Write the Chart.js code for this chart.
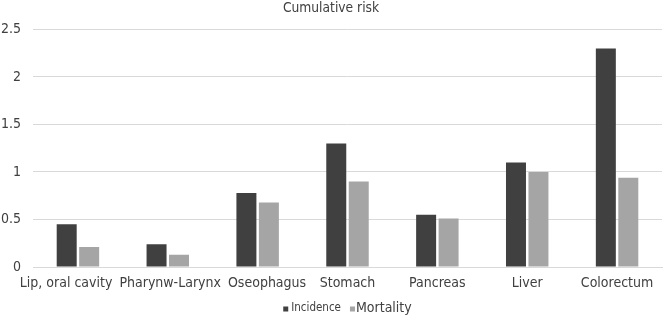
<!DOCTYPE html>
<html><head><meta charset="utf-8">
<script src="https://cdn.jsdelivr.net/npm/chart.js@4"></script>
<style>html,body{margin:0;padding:0;background:#fff;overflow:hidden}#w{width:663px;height:317px}</style>
</head><body><div id="w"><canvas id="c"></canvas></div>
<script>
const categories = ["Lip, oral cavity","Pharynw-Larynx","Oseophagus","Stomach","Pancreas","Liver","Colorectum"];
const incidence = [0.45,0.24,0.78,1.3,0.55,1.1,2.3];
const mortality = [0.21,0.13,0.68,0.9,0.51,1.0,0.94];
const yTicks = [0,0.5,1,1.5,2,2.5];
const FONT = "'DejaVu Sans Condensed', 'DejaVu Sans', sans-serif";
const TXT = '#404040';

// category labels: centred on the x scale ticks, then nudged apart where they would overlap
const categoryLabels = {
  id: 'categoryLabels',
  afterDraw(chart) {
    const ctx = chart.ctx, xs = chart.scales.x;
    const minGap = 7;
    ctx.save();
    ctx.font = '14px ' + FONT;
    ctx.fillStyle = TXT;
    ctx.textAlign = 'center';
    ctx.textBaseline = 'middle';
    const items = chart.data.labels.map((t, i) => ({t, c: xs.getPixelForTick(i), w: ctx.measureText(t).width}));
    for (let it = 0; it < 60; it++) {
      for (let i = 0; i < items.length - 1; i++) {
        const a = items[i], b = items[i + 1];
        const overlap = (a.c + a.w / 2 + minGap) - (b.c - b.w / 2);
        if (overlap > 0) { a.c -= overlap / 2; b.c += overlap / 2; }
      }
    }
    const y = xs.top + 16;
    items.forEach(o => ctx.fillText(o.t, o.c, y));
    ctx.restore();
  }
};

// legend: Incidence drawn smaller than Mortality as in the reference
const legendSizes = [11.5, 14];
const legendGaps = [3, 1];
const customLegend = {
  id: 'customLegend',
  afterDraw(chart) {
    const ctx = chart.ctx;
    const ds = chart.data.datasets;
    const box = 5, gapItems = 9;
    ctx.save();
    ctx.textBaseline = 'middle';
    ctx.textAlign = 'left';
    const widths = ds.map((d, i) => { ctx.font = legendSizes[i] + 'px ' + FONT; return ctx.measureText(d.label).width; });
    let total = 0;
    widths.forEach((w, i) => { total += box + legendGaps[i] + w + (i < widths.length - 1 ? gapItems : 0); });
    const ca = chart.chartArea;
    let x = (ca.left + ca.right - total) / 2;
    const y = chart.scales.x.bottom + 17;
    ds.forEach((d, i) => {
      ctx.fillStyle = d.backgroundColor;
      ctx.fillRect(x, y - box / 2 + 1, box, box);
      x += box + legendGaps[i];
      ctx.font = legendSizes[i] + 'px ' + FONT;
      ctx.fillStyle = TXT;
      ctx.fillText(d.label, x, y);
      x += widths[i] + gapItems;
    });
    ctx.restore();
  }
};

new Chart(document.getElementById('c'), {
  type: 'bar',
  data: {
    labels: categories,
    datasets: [
      {label:'Incidence', data: incidence, backgroundColor:'#404040', categoryPercentage:0.5, barPercentage:0.89},
      {label:'Mortality', data: mortality, backgroundColor:'#a5a5a5', categoryPercentage:0.5, barPercentage:0.89}
    ]
  },
  plugins: [categoryLabels, customLegend],
  options: {
    responsive:true, maintainAspectRatio:false, animation:false,
    layout:{padding:{left:0,right:1,top:0,bottom:26}},
    plugins:{
      title:{display:true,text:'Cumulative risk',color:TXT,font:{family:FONT,size:13.7,weight:'normal'},padding:{top:0,bottom:13}},
      legend:{display:false},
      tooltip:{enabled:false}
    },
    scales:{
      x:{grid:{display:false,drawTicks:false},border:{color:'#d9d9d9'},
         afterFit:(ax)=>{ax.height=24;},
         ticks:{display:false}},
      y:{min:0,max:2.5,
         afterBuildTicks:(ax)=>{ax.ticks=yTicks.map(v=>({value:v}));},
         afterFit:(ax)=>{ax.width=33;},
         grid:{color:'#d9d9d9',drawTicks:false},border:{display:false},
         ticks:{color:TXT,font:{family:FONT,size:14},padding:12,callback:(v)=>String(v)}}
    }
  }
});
</script></body></html>
